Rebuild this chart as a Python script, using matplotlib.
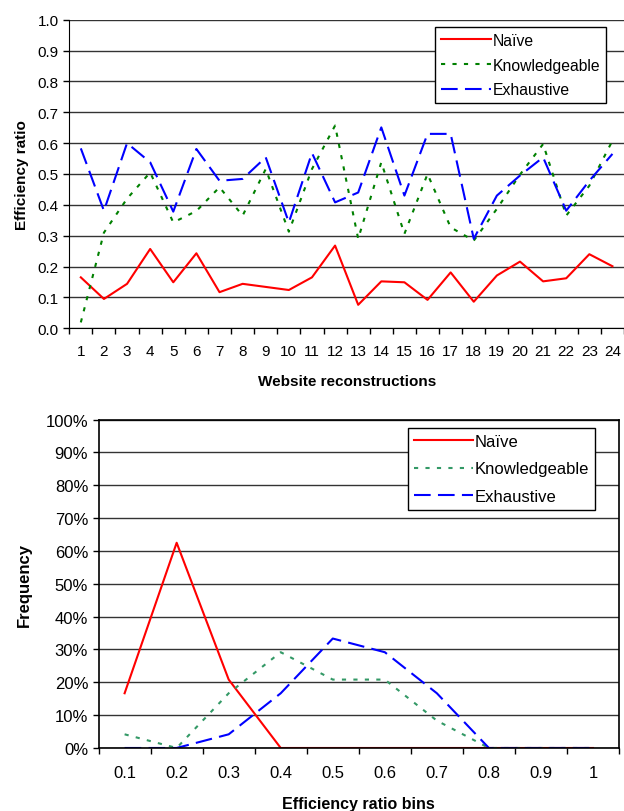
import matplotlib
matplotlib.use("Agg")
import matplotlib.pyplot as plt
from matplotlib.ticker import FixedLocator, NullFormatter, FuncFormatter

plt.rcParams['font.family'] = ['Liberation Sans', 'DejaVu Sans']

# --- DATA ---
sites = list(range(1, 25))
naive = [0.165, 0.095, 0.144, 0.257, 0.149, 0.243, 0.117, 0.144, 0.134, 0.124, 0.165, 0.268,
         0.076, 0.152, 0.149, 0.092, 0.181, 0.086, 0.171, 0.216, 0.152, 0.162, 0.240, 0.201]
knowledgeable = [0.019, 0.31, 0.42, 0.505, 0.343, 0.38, 0.457, 0.365, 0.516, 0.313, 0.516, 0.657,
                 0.29, 0.538, 0.306, 0.50, 0.327, 0.284, 0.387, 0.498, 0.597, 0.365, 0.462, 0.608]
exhaustive = [0.583, 0.381, 0.600, 0.538, 0.378, 0.581, 0.478, 0.484, 0.554, 0.343, 0.568, 0.408,
              0.44, 0.651, 0.43, 0.63, 0.63, 0.29, 0.43, 0.495, 0.554, 0.381, 0.478, 0.565]

bins = ["0.1", "0.2", "0.3", "0.4", "0.5", "0.6", "0.7", "0.8", "0.9", "1"]
naive_freq = [4/24, 15/24, 5/24, 0, 0, 0, 0, 0, 0, 0]
knowledgeable_freq = [1/24, 0, 4/24, 7/24, 5/24, 5/24, 2/24, 0, 0, 0]
exhaustive_freq = [0, 0, 1/24, 4/24, 8/24, 7/24, 4/24, 0, 0, 0]

labels = ["Naïve", "Knowledgeable", "Exhaustive"]

fig = plt.figure(figsize=(6.24, 8.12), dpi=100)

def style_axes(ax, size):
    ax.tick_params(axis='both', labelsize=size, color='black', length=4, width=1, direction='out')
    ax.grid(axis='y', color='#333333', linewidth=1)
    ax.set_axisbelow(True)

# --- TOP CHART ---
ax1 = fig.add_axes([0.111, 0.5945, 0.889, 0.38])
ax1.plot(sites, naive, color='#FF0000', linewidth=1.5, label=labels[0])
ax1.plot(sites, knowledgeable, color='#008000', linewidth=1.5, dashes=(2, 3.5), label=labels[1])
ax1.plot(sites, exhaustive, color='#0000FF', linewidth=1.5, dashes=(8, 3.5), label=labels[2])
ax1.set_xlim(0.5, 24.5)
ax1.set_ylim(0, 1.0)
ax1.set_yticks([i / 10 for i in range(11)])
ax1.yaxis.set_major_formatter(FuncFormatter(lambda v, p: f"{v:.1f}"))
ax1.xaxis.set_major_locator(FixedLocator([i + 0.5 for i in range(0, 25)]))
ax1.xaxis.set_major_formatter(NullFormatter())
ax1.xaxis.set_minor_locator(FixedLocator(sites))
ax1.set_xticklabels([str(s) for s in sites], minor=True)
style_axes(ax1, 11)
ax1.tick_params(axis='x', which='minor', length=0, labelsize=11, pad=11)
ax1.spines['top'].set_visible(False)
ax1.spines['right'].set_visible(False)
ax1.set_xlabel("Website reconstructions", fontsize=11, fontweight='bold', labelpad=12)
ax1.set_ylabel("Efficiency ratio", fontsize=11, fontweight='bold', labelpad=6)
leg1 = ax1.legend(loc='upper right', bbox_to_anchor=(0.967, 0.975), fontsize=11.3, handlelength=3.2,
                  handletextpad=0.1, fancybox=False, edgecolor='black', framealpha=1,
                  borderaxespad=0, labelspacing=0.62, borderpad=0.35)
leg1.get_frame().set_linewidth(1)

# --- BOTTOM CHART ---
x = list(range(len(bins)))
ax2 = fig.add_axes([0.158, 0.0776, 0.834, 0.4044])
ax2.plot(x, naive_freq, color='#FF0000', linewidth=1.5, label=labels[0])
ax2.plot(x, knowledgeable_freq, color='#339966', linewidth=1.5, dashes=(2, 3.5), label=labels[1])
ax2.plot(x, exhaustive_freq, color='#0000FF', linewidth=1.5, dashes=(8, 3.5), label=labels[2])
ax2.set_xlim(-0.5, len(bins) - 0.5)
ax2.set_ylim(0, 1.0)
ax2.set_yticks([i / 10 for i in range(11)])
ax2.yaxis.set_major_formatter(FuncFormatter(lambda v, p: f"{int(round(v * 100))}%"))
ax2.xaxis.set_major_locator(FixedLocator([i - 0.5 for i in range(len(bins) + 1)]))
ax2.xaxis.set_major_formatter(NullFormatter())
ax2.xaxis.set_minor_locator(FixedLocator(x))
ax2.set_xticklabels(bins, minor=True)
style_axes(ax2, 12)
ax2.tick_params(axis='x', which='minor', length=0, labelsize=12, pad=12)
for sp in ax2.spines.values():
    sp.set_linewidth(1.2)
ax2.set_xlabel("Efficiency ratio bins", fontsize=11.5, fontweight='bold', labelpad=12)
ax2.set_ylabel("Frequency", fontsize=12, fontweight='bold', labelpad=10)
leg2 = ax2.legend(loc='upper right', bbox_to_anchor=(0.953, 0.974), fontsize=12, handlelength=3.55,
                  handletextpad=0.1, fancybox=False, edgecolor='black', framealpha=1,
                  borderaxespad=0, labelspacing=0.75, borderpad=0.35)
leg2.get_frame().set_linewidth(1)

plt.savefig("out.png", dpi=100)
